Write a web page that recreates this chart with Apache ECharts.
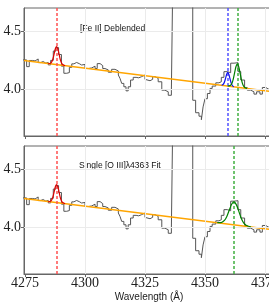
<!DOCTYPE html>
<html>
<head>
<meta charset="utf-8">
<script src="https://cdn.jsdelivr.net/npm/echarts@6/dist/echarts.min.js"></script>
<style>
html,body{margin:0;padding:0;background:#fff;}
#c{width:269px;height:308px;}
</style>
</head>
<body>
<div id="c"></div>
<script>
// ---- data ----
var wavelengthEdges = [4274.0, 4275.7, 4276.8, 4278.2, 4279.2, 4280.5, 4281.5, 4282.6, 4283.7, 4284.7, 4285.7, 4286.8, 4287.9, 4289.0, 4290.2, 4291.2, 4292.4, 4293.5, 4294.5, 4295.4, 4296.5, 4297.6, 4298.6, 4300.0, 4301.4, 4302.8, 4304.2, 4305.1, 4306.3, 4307.4, 4308.3, 4309.7, 4311.1, 4312.5, 4313.9, 4314.6, 4315.3, 4316.2, 4317.1, 4318.0, 4319.0, 4320.1, 4321.3, 4322.4, 4323.6, 4325.0, 4325.7, 4327.1, 4328.2, 4329.2, 4330.5, 4332.0, 4333.3, 4334.7, 4336.0, 4336.8, 4344.9, 4346.1, 4347.5, 4348.5, 4349.2, 4350.0, 4351.0, 4352.1, 4353.0, 4354.5, 4355.8, 4356.8, 4357.9, 4359.3, 4360.7, 4362.1, 4363.75, 4364.9, 4366.5, 4367.6, 4369.0, 4370.4, 4371.5, 4372.9, 4373.9, 4375.3, 4376.7, 4379.0];
var logFlux = [4.254, 4.196, 4.249, 4.245, 4.262, 4.231, 4.240, 4.226, 4.232, 4.211, 4.250, 4.330, 4.360, 4.300, 4.200, 4.139, 4.145, 4.190, 4.220, 4.232, 4.222, 4.210, 4.215, 4.180, 4.185, 4.200, 4.180, 4.222, 4.205, 4.180, 4.168, 4.148, 4.173, 4.159, 4.124, 4.095, 4.052, 4.023, 3.988, 4.023, 4.081, 4.104, 4.100, 4.110, 4.124, 4.087, 4.075, 4.087, 4.110, 4.095, 4.066, 3.994, 3.980, 3.950, 3.994, 5.300, 3.907, 3.800, 3.770, 3.740, 3.850, 3.920, 3.965, 4.009, 4.029, 4.057, 4.066, 4.104, 4.153, 4.144, 4.226, 4.230, 4.153, 4.081, 4.017, 3.994, 3.980, 3.960, 3.980, 3.960, 4.017, 4.000, 4.000, 4.000];

var continuumWl = [4274.6, 4378.75];
var continuumFlux = [4.248, 3.980];

var redFitWl   = [4284.7, 4285.7, 4286.2, 4286.7, 4287.2, 4287.7, 4288.2, 4288.7, 4289.2, 4289.7, 4290.2, 4290.7, 4291.7];
var redFitFlux = [4.222, 4.226, 4.239, 4.267, 4.310, 4.352, 4.368, 4.349, 4.305, 4.259, 4.229, 4.214, 4.204];

var blueFitWl   = [4356.95, 4357.375, 4357.8, 4358.225, 4358.65, 4359.075, 4359.5, 4359.925, 4360.35, 4360.775, 4361.2, 4361.625, 4362.05];
var blueFitFlux = [4.038, 4.040, 4.050, 4.071, 4.102, 4.133, 4.146, 4.131, 4.098, 4.064, 4.041, 4.029, 4.024];

var greenTopWl   = [4359.475, 4360.05, 4360.625, 4361.2, 4361.775, 4362.35, 4362.925, 4363.5, 4364.075, 4364.65, 4365.225, 4365.8, 4366.375, 4366.95, 4367.525];
var greenTopFlux = [4.030, 4.031, 4.036, 4.052, 4.089, 4.144, 4.197, 4.220, 4.194, 4.138, 4.080, 4.041, 4.021, 4.013, 4.010];

var greenBotWl   = [4355.1, 4356.1, 4357.1, 4358.1, 4359.1, 4360.1, 4361.1, 4362.1, 4363.1, 4364.1, 4365.1, 4366.1, 4367.1, 4368.1, 4369.1];
var greenBotFlux = [4.042, 4.041, 4.045, 4.060, 4.095, 4.148, 4.200, 4.220, 4.194, 4.138, 4.079, 4.039, 4.019, 4.010, 4.006];

var redLineWl = 4288.2;
var blueLineWl = 4359.5;
var greenTopLineWl = 4363.5;
var greenBotLineWl = 4362.1;

var xTickValues = [4275, 4300, 4325, 4350, 4375];
var xGridValues = [4300, 4325, 4350, 4375];
var yTickValues = [4.0, 4.5];
var xRange = [4274.6, 4378.75];
var yRange = [3.6, 4.7];

var topLabel = '[Fe II] Deblended';
var bottomLabel = 'Single [O III]\u03bb4363 Fit';
var xAxisTitle = 'Wavelength (\u00c5)';

// ---- build ----
function pairs(xs, ys) { return xs.map(function (x, i) { return [x, ys[i]]; }); }
var spectrum = pairs(wavelengthEdges, logFlux);
var continuum = pairs(continuumWl, continuumFlux);

var AX = '#666';
var SERIF = '"Liberation Serif", "Times New Roman", serif';
var SANS = '"Liberation Sans", Arial, sans-serif';

function xAxisCfg(idx, showLabels) {
  return {
    type: 'value', gridIndex: idx, min: xRange[0], max: xRange[1],
    axisLine: { show: true, lineStyle: { color: AX, width: 1 } },
    axisTick: { show: true, length: 3, lineStyle: { color: AX }, customValues: xTickValues },
    axisLabel: { show: showLabels, customValues: xTickValues, fontFamily: SERIF, fontSize: 14, color: '#222', margin: 2,
      formatter: function (v) { return String(Math.round(v)); } },
    splitLine: { show: false },
    name: showLabels ? xAxisTitle : '', nameLocation: 'middle', nameGap: 18,
    nameTextStyle: { fontFamily: SANS, fontSize: 10, color: '#222' }
  };
}
function yAxisCfg(idx) {
  return {
    type: 'value', gridIndex: idx, min: yRange[0], max: yRange[1],
    axisLine: { show: true, lineStyle: { color: AX, width: 1 } },
    axisTick: { show: true, length: 3, lineStyle: { color: AX }, customValues: yTickValues },
    axisLabel: { show: true, customValues: yTickValues, fontFamily: SERIF, fontSize: 14, color: '#222', margin: 3,
      formatter: function (v) { return v.toFixed(1); } },
    splitLine: { show: false }
  };
}

function gridSeries(idx) {
  var d = xGridValues.map(function (v) { return { xAxis: v }; })
    .concat(yTickValues.map(function (v) { return { yAxis: v }; }));
  return {
    type: 'line', xAxisIndex: idx, yAxisIndex: idx, data: [[4300, 4.0]], symbol: 'none',
    lineStyle: { opacity: 0 }, z: 1, silent: true,
    markLine: { silent: true, symbol: 'none', label: { show: false },
      lineStyle: { color: '#ebebeb', width: 1, type: 'solid' }, data: d }
  };
}
function specSeries(idx) {
  return { type: 'line', xAxisIndex: idx, yAxisIndex: idx, data: spectrum, step: 'end', symbol: 'none',
    lineStyle: { color: '#555', width: 1 }, z: 3, clip: true };
}
function contSeries(idx) {
  return { type: 'line', xAxisIndex: idx, yAxisIndex: idx, data: continuum, symbol: 'none',
    lineStyle: { color: '#ffa500', width: 1.5 }, z: 4, clip: true };
}
function fitSeries(idx, xs, ys, color, lineX, dashColor) {
  return { type: 'line', xAxisIndex: idx, yAxisIndex: idx, data: pairs(xs, ys), symbol: 'none', smooth: 0.3,
    lineStyle: { color: color, width: 1.2 }, z: 5, clip: true,
    markLine: { silent: true, symbol: 'none', label: { show: false },
      lineStyle: { color: dashColor, width: 1.5, type: [3, 2] }, data: [{ xAxis: lineX }] } };
}

var option = {
  animation: false,
  backgroundColor: '#fff',
  grid: [
    { left: 24, top: 8, right: -5, height: 128, show: true, borderColor: AX, borderWidth: 1, outerBoundsMode: 'none', containLabel: false },
    { left: 24, top: 146, right: -5, height: 128, show: true, borderColor: AX, borderWidth: 1, outerBoundsMode: 'none', containLabel: false }
  ],
  xAxis: [xAxisCfg(0, false), xAxisCfg(1, true)],
  yAxis: [yAxisCfg(0), yAxisCfg(1)],
  graphic: [
    { type: 'text', left: 80, top: 24, style: { text: topLabel, font: '8.5px ' + SANS, fill: '#111' } },
    { type: 'text', left: 79, top: 161, style: { text: bottomLabel, font: '8.5px ' + SANS, fill: '#111' } }
  ],
  series: [
    gridSeries(0), specSeries(0), contSeries(0),
    fitSeries(0, redFitWl, redFitFlux, '#e00000', redLineWl, '#ff5050'),
    fitSeries(0, blueFitWl, blueFitFlux, '#1010ee', blueLineWl, '#5050ff'),
    fitSeries(0, greenTopWl, greenTopFlux, '#008000', greenTopLineWl, '#40b040'),
    gridSeries(1), specSeries(1), contSeries(1),
    fitSeries(1, redFitWl, redFitFlux, '#e00000', redLineWl, '#ff5050'),
    fitSeries(1, greenBotWl, greenBotFlux, '#008000', greenBotLineWl, '#40b040')
  ]
};
var chart = echarts.init(document.getElementById('c'), null, { renderer: 'canvas' });
chart.setOption(option);
</script>
</body>
</html>
